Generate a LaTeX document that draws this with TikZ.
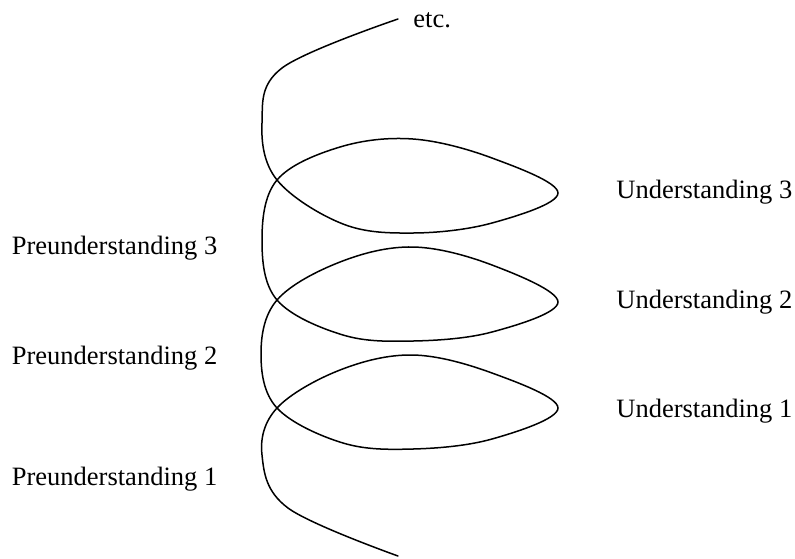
\documentclass[tikz,border=0pt]{standalone}
\usepackage{fontspec}
\setmainfont{Liberation Serif}
\usetikzlibrary{positioning}

\begin{document}
\begin{tikzpicture}[x=0.5pt,y=-0.5pt,font=\fontsize{13.25}{16}\selectfont,
    lbl/.style={anchor=base west, inner sep=0pt}]
    \useasboundingbox (0,0) rectangle (795,558);
    % spiral, from the bottom end up to etc.
    \draw[line width=0.75pt, line cap=round] plot[smooth, tension=0.6] coordinates {
      (398,556) (288,508) (262,455) (277,408)
      (340,370) (413,355) (492,373) (558,408) (492,439) (413,449) (343,443) (277,408)
      (261,354) (277,300)
      (340,262) (413,247) (492,265) (558,302) (492,332) (413,341) (343,335) (277,300)
      (262,240) (277,180)
      (340,147) (413,139) (492,158) (558,193) (492,223) (413,233) (343,224) (277,180)
      (262,123) (282,68) (398,19)};
    \node[lbl] (etc) at (413,27) {etc.};
    \node[lbl] (und3) at (616,198) {Understanding 3};
    \node[lbl] (und2) at (616,308) {Understanding 2};
    \node[lbl] (und1) at (616,417) {Understanding 1};
    \node[lbl] (pre3) at (11.5,254) {Preunderstanding 3};
    \node[lbl] (pre2) at (11.5,364) {Preunderstanding 2};
    \node[lbl] (pre1) at (11.5,485) {Preunderstanding 1};
  \end{tikzpicture}
\end{document}
